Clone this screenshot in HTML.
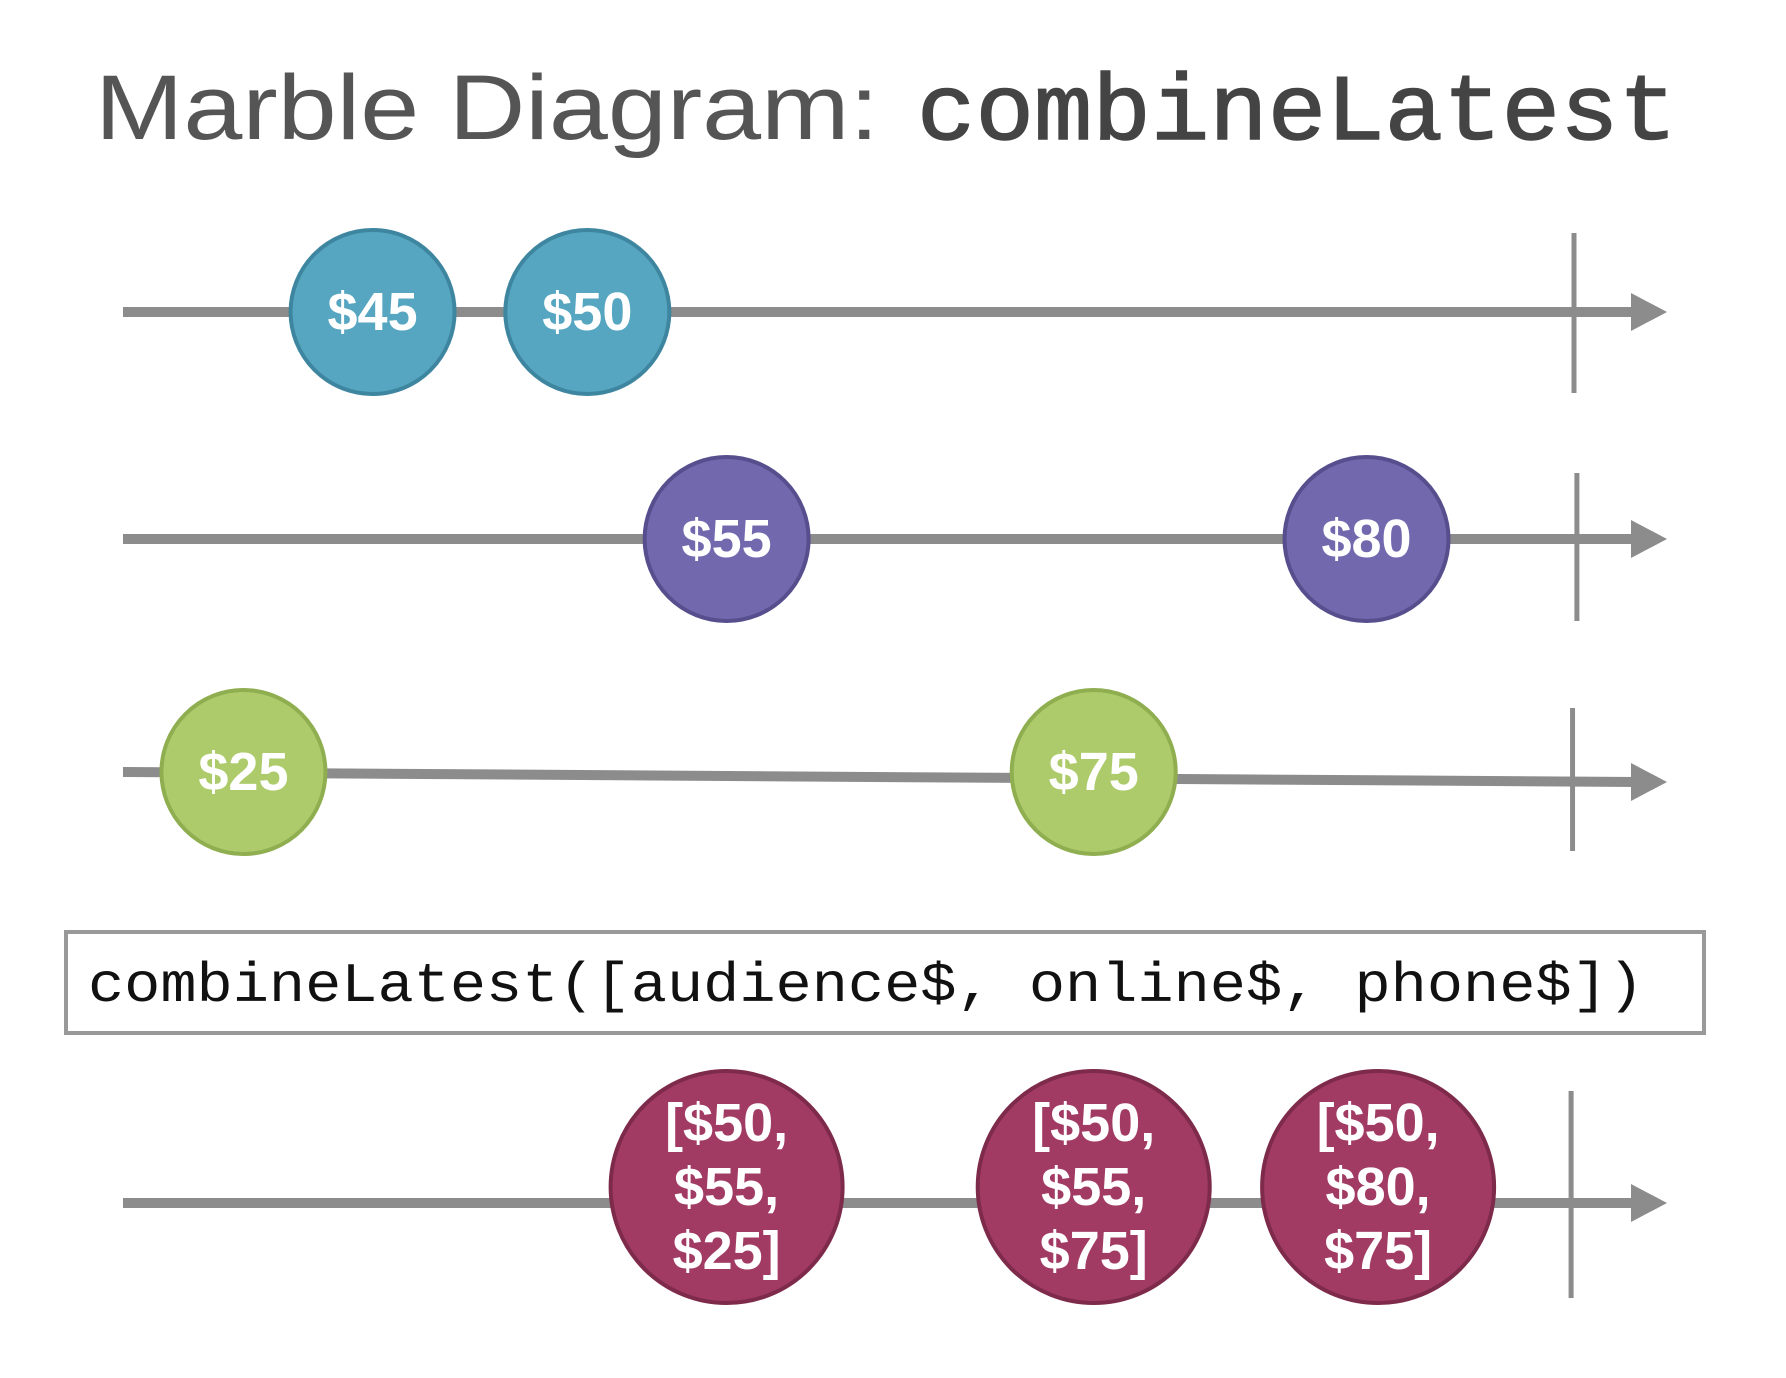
<!DOCTYPE html>
<html><head><meta charset="utf-8"><style>
html,body{margin:0;padding:0;background:#fff;}
svg{display:block;}
</style></head><body>
<svg id="chart" width="1786" height="1378" viewBox="0 0 1786 1378" xmlns="http://www.w3.org/2000/svg">
<text x="95" y="139" font-family="Liberation Sans, sans-serif" font-size="92" fill="#555" textLength="784" lengthAdjust="spacingAndGlyphs">Marble Diagram:</text>
<text x="917" y="139" font-family="Liberation Mono, monospace" font-size="94" fill="#444" stroke="#444" stroke-width="1.5" textLength="760" lengthAdjust="spacingAndGlyphs">combineLatest</text>
<rect x="66" y="932" width="1638" height="101" fill="#fff" stroke="#999" stroke-width="4"/>
<text x="88" y="1001" font-family="Liberation Mono, monospace" font-size="56" fill="#111" textLength="1556" lengthAdjust="spacingAndGlyphs">combineLatest([audience$, online$, phone$])</text>
<g id="marks"></g>
</svg>
<script>
// Stream rows and event times (0..100 time units along the timeline)
const rowNames = ['audience', 'online', 'phone', 'combined'];
const audienceTimes = [17.2, 32.0];
const audienceLabels = [['$45'], ['$50']];
const onlineTimes = [41.6, 85.7];
const onlineLabels = [['$55'], ['$80']];
const phoneTimes = [8.3, 66.9];
const phoneLabels = [['$25'], ['$75']];
const combinedTimes = [41.6, 66.9, 86.5];
const combinedLabels = [['[$50,', '$55,', '$25]'], ['[$50,', '$55,', '$75]'], ['[$50,', '$80,', '$75]']];
const completeTimes = [100, 100.2, 99.9, 99.8];

const NS = 'http://www.w3.org/2000/svg';
const g = document.getElementById('marks');
const x = t => 123 + t / 100 * 1451;
const rowY = [312, 539, 772, 1203];
const rowTop = [233, 473, 708, 1091];
const rowBot = [393, 621, 851, 1298];
const styles = [
  {fill:'#56a6c2', stroke:'#3e86a0', r:82},
  {fill:'#7168ae', stroke:'#574e8e', r:82},
  {fill:'#aecb6c', stroke:'#8eae50', r:82},
  {fill:'#a23b64', stroke:'#7e2a4b', r:116}
];
const times = [audienceTimes, onlineTimes, phoneTimes, combinedTimes];
const labels = [audienceLabels, onlineLabels, phoneLabels, combinedLabels];

function mk(tag, attrs){const e=document.createElementNS(NS,tag);for(const k in attrs)e.setAttribute(k,attrs[k]);g.appendChild(e);return e;}

rowNames.forEach((name, i) => {
  const y = rowY[i];
  const y1 = i === 2 ? y : y, y2 = i === 2 ? y + 10 : y;
  const line = mk('line', {x1:123, y1:y1, x2:1636, y2:y2, stroke:'#8c8c8c', 'stroke-width':10});
  
  
  const ah = mk('polygon', {points:`1631,${y2-19} 1667,${y2} 1631,${y2+19}`, fill:'#8c8c8c'});
  
  
  const cx = x(completeTimes[i]);
  const tick = mk('line', {x1:cx, y1:rowTop[i], x2:cx, y2:rowBot[i], stroke:'#8c8c8c', 'stroke-width':5});
  
  
  const st = styles[i];
  times[i].forEach((t, j) => {
    const px = x(t);
    const c = mk('circle', {cx:px, cy:y - (i===3?16:0), r:st.r, fill:st.fill, stroke:st.stroke, 'stroke-width':4});
    
    
    const cy = +c.getAttribute('cy');
    const lines = labels[i][j];
    const lh = 64;
    lines.forEach((s, k) => {
      const tx = mk('text', {x:px, y:cy + (k - (lines.length-1)/2) * lh + 18, 'text-anchor':'middle', 'font-family':'Liberation Sans, sans-serif', 'font-weight':'bold', 'font-size':54, fill:'#fff'});
      tx.textContent = s;
      
      
    });
  });
});
</script>
</body></html>
